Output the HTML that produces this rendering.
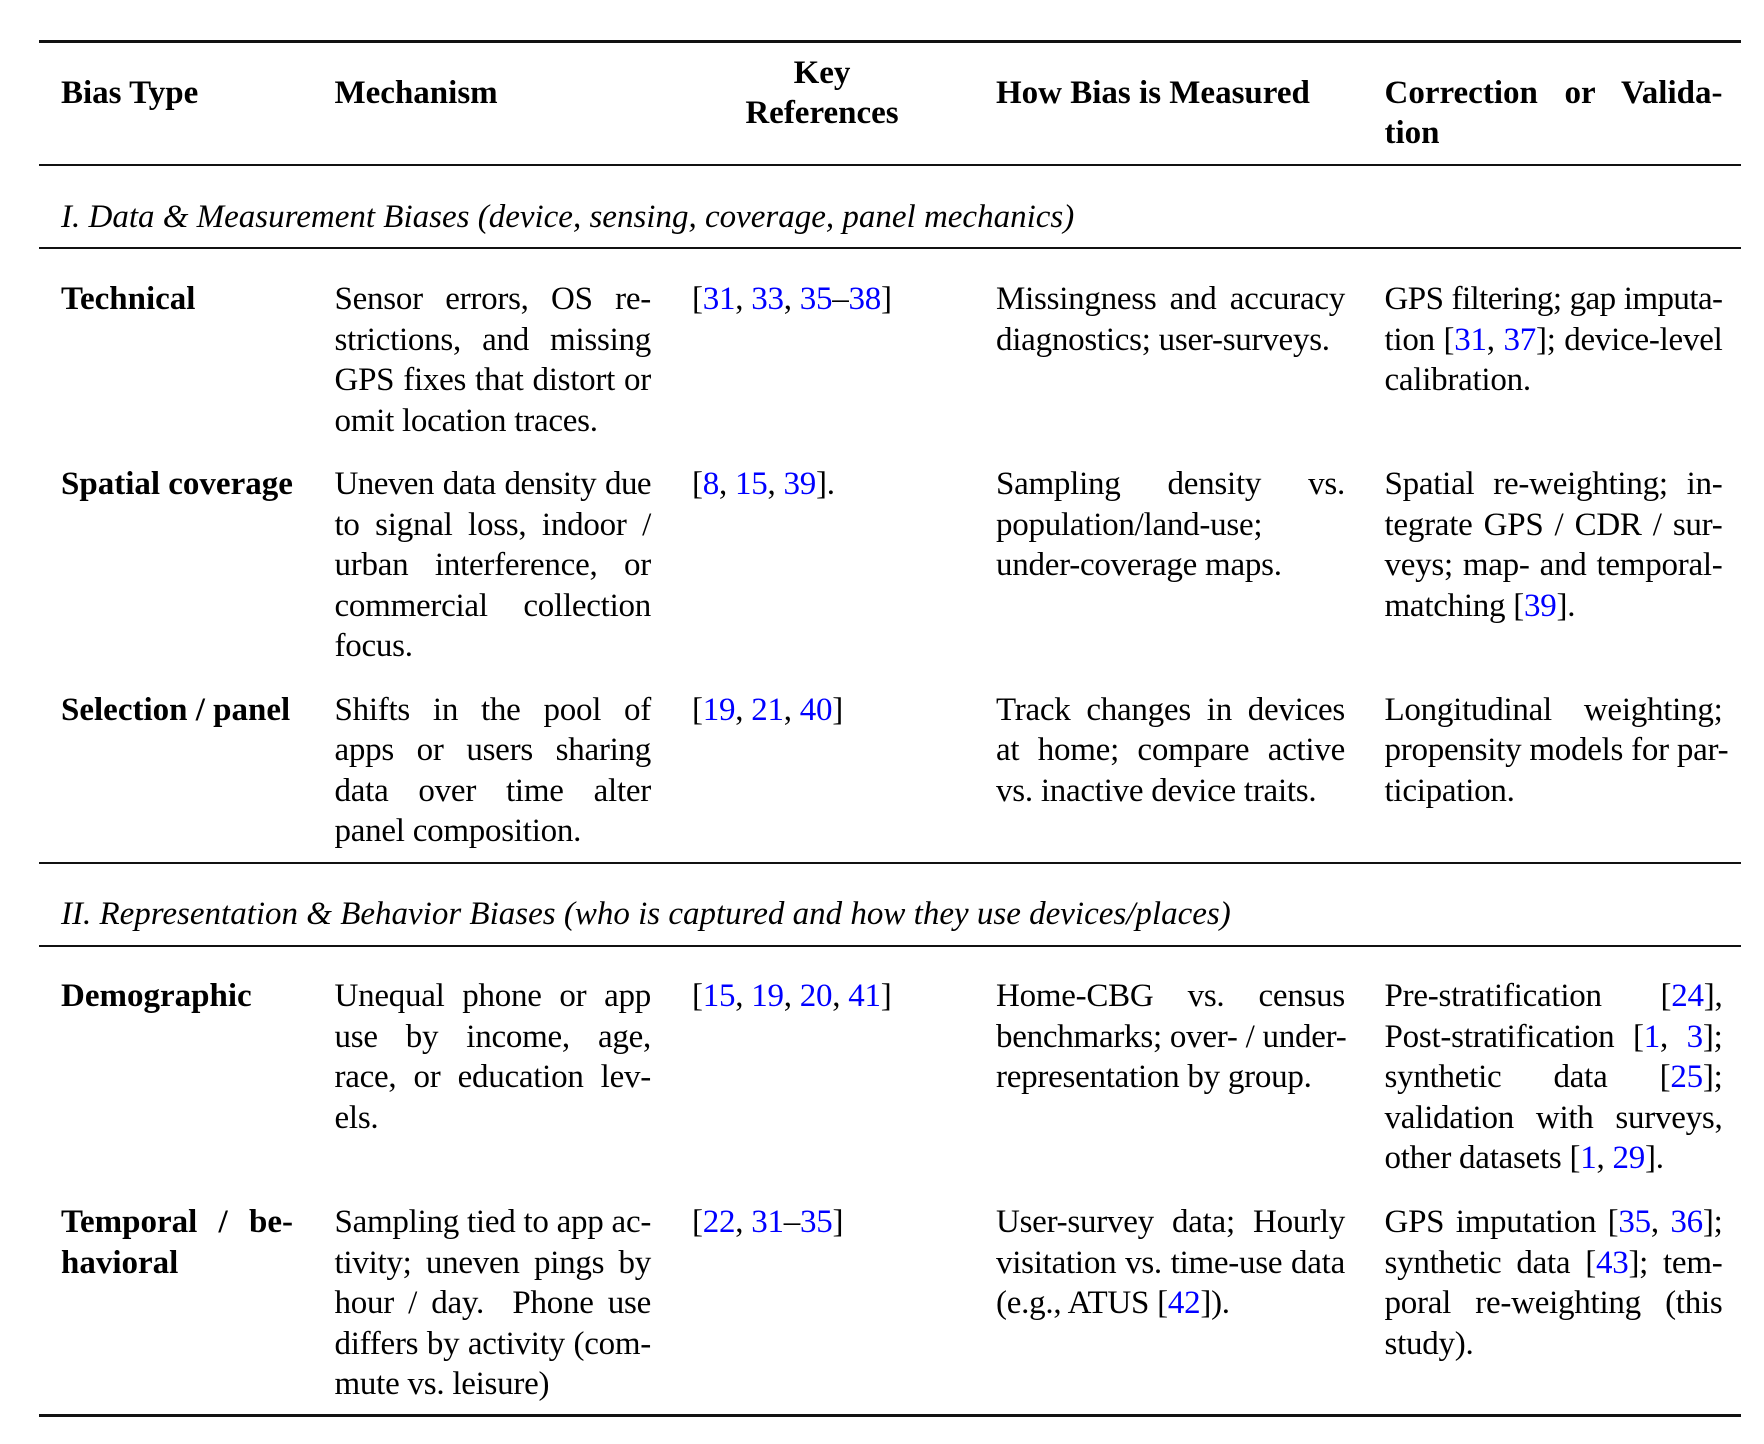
<!DOCTYPE html>
<html>
<head>
<meta charset="utf-8">
<style>
  html,body{margin:0;padding:0;background:#fff;}
  body{width:1764px;height:1444px;position:relative;overflow:hidden;
       font-family:"Liberation Serif","Times New Roman",serif;font-size:33px;color:#000;letter-spacing:-0.25px;}
  .c{position:absolute;line-height:40.5px;}
  .l{white-space:nowrap;height:40.5px;}
  .j{text-align:justify;text-align-last:justify;}
  .t{letter-spacing:-0.55px;}
  .b{font-weight:bold;letter-spacing:0;}
  .i{font-style:italic;letter-spacing:0;}
  a,.r{color:#0000ff;text-decoration:none;}
  .rule{position:absolute;left:39px;width:1702px;background:#111;}
  .c1{left:61px;width:232px;}
  .c2{left:334.5px;width:316.5px;}
  .c3{left:692px;width:262px;}
  .c4{left:996px;width:349px;}
  .c5{left:1384.5px;width:338px;}
</style>
</head>
<body>

<!-- rules -->
<div class="rule" style="top:40px;height:3px;"></div>
<div class="rule" style="top:164px;height:2px;"></div>
<div class="rule" style="top:247px;height:2px;"></div>
<div class="rule" style="top:862px;height:2px;"></div>
<div class="rule" style="top:945px;height:2px;"></div>
<div class="rule" style="top:1414px;height:3px;"></div>

<!-- header -->
<div class="c c1 b" style="top:72.6px;"><div class="l">Bias Type</div></div>
<div class="c c2 b" style="top:72.6px;"><div class="l">Mechanism</div></div>
<div class="c c3 b" style="top:52.8px;text-align:center;left:691px;"><div class="l">Key</div><div class="l">References</div></div>
<div class="c c4 b" style="top:72.6px;"><div class="l">How Bias is Measured</div></div>
<div class="c c5 b" style="top:72.6px;"><div class="l j">Correction or Valida-</div><div class="l">tion</div></div>

<!-- section I -->
<div class="c i" style="left:61px;top:196.6px;"><div class="l">I. Data &amp; Measurement Biases (device, sensing, coverage, panel mechanics)</div></div>

<!-- Technical -->
<div class="c c1 b" style="top:279.1px;"><div class="l">Technical</div></div>
<div class="c c2" style="top:279.1px;">
  <div class="l j">Sensor errors, OS re-</div>
  <div class="l j">strictions, and missing</div>
  <div class="l j">GPS fixes that distort or</div>
  <div class="l">omit location traces.</div>
</div>
<div class="c c3" style="top:279.1px;"><div class="l">[<span class="r">31</span>, <span class="r">33</span>, <span class="r">35</span>–<span class="r">38</span>]</div></div>
<div class="c c4" style="top:279.1px;">
  <div class="l j">Missingness and accuracy</div>
  <div class="l">diagnostics; user-surveys.</div>
</div>
<div class="c c5" style="top:279.1px;">
  <div class="l j t">GPS filtering; gap imputa-</div>
  <div class="l j">tion [<span class="r">31</span>, <span class="r">37</span>]; device-level</div>
  <div class="l">calibration.</div>
</div>

<!-- Spatial coverage -->
<div class="c c1 b" style="top:464.1px;"><div class="l">Spatial coverage</div></div>
<div class="c c2" style="top:464.1px;">
  <div class="l j t">Uneven data density due</div>
  <div class="l j">to signal loss, indoor /</div>
  <div class="l j">urban interference, or</div>
  <div class="l j">commercial collection</div>
  <div class="l">focus.</div>
</div>
<div class="c c3" style="top:464.1px;"><div class="l">[<span class="r">8</span>, <span class="r">15</span>, <span class="r">39</span>].</div></div>
<div class="c c4" style="top:464.1px;">
  <div class="l j">Sampling density vs.</div>
  <div class="l">population/land-use;</div>
  <div class="l">under-coverage maps.</div>
</div>
<div class="c c5" style="top:464.1px;">
  <div class="l j">Spatial re-weighting; in-</div>
  <div class="l j">tegrate GPS / CDR / sur-</div>
  <div class="l j">veys; map- and temporal-</div>
  <div class="l">matching [<span class="r">39</span>].</div>
</div>

<!-- Selection / panel -->
<div class="c c1 b" style="top:689.6px;"><div class="l">Selection / panel</div></div>
<div class="c c2" style="top:689.6px;">
  <div class="l j">Shifts in the pool of</div>
  <div class="l j">apps or users sharing</div>
  <div class="l j">data over time alter</div>
  <div class="l">panel composition.</div>
</div>
<div class="c c3" style="top:689.6px;"><div class="l">[<span class="r">19</span>, <span class="r">21</span>, <span class="r">40</span>]</div></div>
<div class="c c4" style="top:689.6px;">
  <div class="l j">Track changes in devices</div>
  <div class="l j">at home; compare active</div>
  <div class="l">vs. inactive device traits.</div>
</div>
<div class="c c5" style="top:689.6px;">
  <div class="l j">Longitudinal weighting;</div>
  <div class="l j">propensity models for par-</div>
  <div class="l">ticipation.</div>
</div>

<!-- section II -->
<div class="c i" style="left:61px;top:894.1px;"><div class="l">II. Representation &amp; Behavior Biases (who is captured and how they use devices/places)</div></div>

<!-- Demographic -->
<div class="c c1 b" style="top:976.3px;"><div class="l">Demographic</div></div>
<div class="c c2" style="top:976.3px;">
  <div class="l j">Unequal phone or app</div>
  <div class="l j">use by income, age,</div>
  <div class="l j">race, or education lev-</div>
  <div class="l">els.</div>
</div>
<div class="c c3" style="top:976.3px;"><div class="l">[<span class="r">15</span>, <span class="r">19</span>, <span class="r">20</span>, <span class="r">41</span>]</div></div>
<div class="c c4" style="top:976.3px;">
  <div class="l j">Home-CBG vs. census</div>
  <div class="l j">benchmarks; over- / under-</div>
  <div class="l">representation by group.</div>
</div>
<div class="c c5" style="top:976.3px;">
  <div class="l j">Pre-stratification [<span class="r">24</span>],</div>
  <div class="l j">Post-stratification [<span class="r">1</span>, <span class="r">3</span>];</div>
  <div class="l j">synthetic data [<span class="r">25</span>];</div>
  <div class="l j">validation with surveys,</div>
  <div class="l">other datasets [<span class="r">1</span>, <span class="r">29</span>].</div>
</div>

<!-- Temporal -->
<div class="c c1 b" style="top:1202.1px;">
  <div class="l j">Temporal / be-</div>
  <div class="l">havioral</div>
</div>
<div class="c c2" style="top:1202.1px;">
  <div class="l j">Sampling tied to app ac-</div>
  <div class="l j">tivity; uneven pings by</div>
  <div class="l j">hour / day.&nbsp; Phone use</div>
  <div class="l j">differs by activity (com-</div>
  <div class="l">mute vs. leisure)</div>
</div>
<div class="c c3" style="top:1202.1px;"><div class="l">[<span class="r">22</span>, <span class="r">31</span>–<span class="r">35</span>]</div></div>
<div class="c c4" style="top:1202.1px;">
  <div class="l j">User-survey data; Hourly</div>
  <div class="l j">visitation vs. time-use data</div>
  <div class="l">(e.g., ATUS [<span class="r">42</span>]).</div>
</div>
<div class="c c5" style="top:1202.1px;">
  <div class="l j">GPS imputation [<span class="r">35</span>, <span class="r">36</span>];</div>
  <div class="l j">synthetic data [<span class="r">43</span>]; tem-</div>
  <div class="l j">poral re-weighting (this</div>
  <div class="l">study).</div>
</div>

</body>
</html>
